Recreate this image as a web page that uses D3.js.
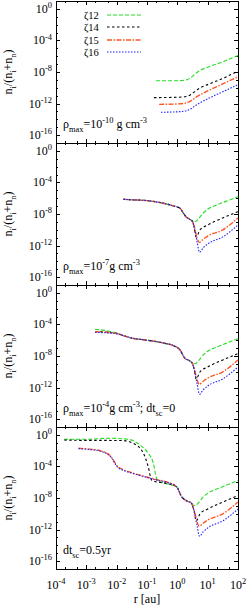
<!DOCTYPE html>
<html>
<head>
<meta charset="utf-8">
<script src="https://cdn.jsdelivr.net/npm/d3@7"></script>
<style>
  body { margin: 0; background: #fff; }
</style>
</head>
<body>
<svg id="chart" width="249" height="608" font-family="'Liberation Serif', 'Times New Roman', serif"></svg>
<script>
// all values are log10(r [au]), log10(n_i/(n_i+n_n))

// panel 1: rho_max = 1e-10
var p1_z12 = [[-0.7,-9.1],[0.0,-9.1],[0.3,-9.0],[0.45,-8.7],[0.6,-8.2],[0.75,-7.8],[1.0,-7.4],[1.5,-6.7],[2.0,-5.9]];
var p1_z14 = [[-0.77,-11.25],[0.0,-11.2],[0.3,-11.1],[0.45,-10.85],[0.6,-10.4],[0.75,-10.0],[1.0,-9.6],[1.5,-8.8],[2.0,-7.9]];
var p1_z15 = [[-0.6,-12.1],[0.0,-12.05],[0.3,-11.9],[0.45,-11.65],[0.6,-11.25],[0.75,-10.9],[1.0,-10.4],[1.5,-9.5],[2.0,-8.6]];
var p1_z16 = [[-0.54,-13.1],[0.0,-13.05],[0.3,-12.9],[0.45,-12.65],[0.6,-12.25],[0.75,-11.9],[1.0,-11.4],[1.5,-10.5],[2.0,-9.6]];

// outer part after the dip, same in panels 2-4
var tail_z12 = [[0.5,-8.85],[0.6,-8.95],[0.7,-8.6],[0.85,-7.9],[1.0,-7.4],[1.3,-6.86],[1.6,-6.4],[2.0,-5.8]];
var tail_z14 = [[0.5,-8.95],[0.55,-9.6],[0.62,-10.9],[0.75,-10.0],[1.0,-9.4],[1.5,-8.5],[2.0,-7.7]];
var tail_z15 = [[0.5,-8.95],[0.55,-9.5],[0.65,-11.0],[0.72,-11.6],[0.85,-11.2],[1.0,-10.8],[1.5,-10.0],[2.0,-8.5]];
var tail_z16 = [[0.5,-9.0],[0.55,-9.6],[0.65,-11.5],[0.73,-12.85],[0.85,-12.3],[1.0,-11.8],[1.5,-10.9],[2.0,-9.4]];

// panel 2: rho_max = 1e-7
var p2_trunk = [[-1.78,-6.14],[-1.5,-6.2],[-1.0,-6.3],[-0.8,-6.4],[-0.5,-6.6],[-0.2,-6.9],[0.09,-7.28],[0.2,-7.9],[0.3,-8.4],[0.4,-8.65]];

// panel 3: rho_max = 1e-4, dt_sc = 0
var p3_z12 = [[-2.71,-4.62],[-2.4,-4.75],[-2.0,-5.1]];
var p3_z14 = [[-2.71,-4.9],[-2.4,-4.95],[-2.0,-5.13]];
var p3_z15 = [[-2.71,-4.92],[-2.4,-4.97],[-2.0,-5.15]];
var p3_z16 = [[-2.71,-5.02],[-2.4,-5.05],[-2.0,-5.17]];
var p3_trunk = [[-1.75,-5.45],[-1.46,-5.76],[-1.1,-5.95],[-0.68,-6.18],[-0.4,-6.4],[-0.13,-6.69],[0.09,-7.24],[0.25,-8.3],[0.4,-8.6]];

// panel 4: dt_sc = 0.5 yr
var p4_z12 = [[-3.73,-0.56],[-3.0,-0.56],[-2.6,-0.48],[-2.22,-0.43],[-1.85,-0.48],[-1.56,-0.6],[-1.23,-1.28],[-0.96,-2.33],[-0.79,-3.6],[-0.7,-5.3],[-0.66,-5.75],[-0.5,-6.05],[-0.35,-6.2]];
var p4_z14 = [[-3.73,-0.65],[-3.0,-0.7],[-2.4,-0.7],[-1.8,-0.72],[-1.45,-1.07],[-1.12,-2.33],[-0.96,-4.03],[-0.85,-5.72],[-0.75,-5.9],[-0.35,-6.15]];
var p4_z15 = [[-3.26,-1.7],[-2.9,-1.8],[-2.55,-2.0],[-2.22,-2.59],[-1.95,-4.07],[-1.78,-4.41],[-1.5,-4.8],[-1.23,-5.12],[-0.95,-5.4],[-0.68,-5.68],[-0.35,-5.97]];
var p4_z16 = [[-3.26,-1.75],[-2.9,-1.85],[-2.55,-2.05],[-2.22,-2.7],[-1.95,-4.15],[-1.78,-4.5],[-1.5,-4.85],[-1.23,-5.15],[-0.95,-5.45],[-0.68,-5.72],[-0.35,-6.0]];
var p4_trunk = [[-0.02,-6.6],[0.14,-7.83],[0.3,-8.35],[0.47,-8.67]];

var seriesNames = ["12", "14", "15", "16"];
var seriesColors = ["#22dd22", "#000000", "#ff5522", "#1f1fff"];
var seriesDash = ["4,2", "2.5,2.5", "5,1.5,1.5,1.5", "1.5,1.5"];

var xTickExp = [-4, -3, -2, -1, 0, 1, 2];
var yTickExp = [0, -4, -8, -12, -16];

var panels = [
  { series: [p1_z12, p1_z14, p1_z15, p1_z16], label: [["ρ",0],["max",1],["=10",0],["-10",-1],[" g cm",0],["-3",-1]] },
  { series: [p2_trunk.concat(tail_z12), p2_trunk.concat(tail_z14), p2_trunk.concat(tail_z15), p2_trunk.concat(tail_z16)],
    label: [["ρ",0],["max",1],["=10",0],["-7",-1],["g cm",0],["-3",-1]] },
  { series: [p3_z12.concat(p3_trunk, tail_z12), p3_z14.concat(p3_trunk, tail_z14), p3_z15.concat(p3_trunk, tail_z15), p3_z16.concat(p3_trunk, tail_z16)],
    label: [["ρ",0],["max",1],["=10",0],["-4",-1],["g cm",0],["-3",-1],["; dt",0],["sc",1],["=0",0]] },
  { series: [p4_z12.concat(p4_trunk, tail_z12), p4_z14.concat(p4_trunk, tail_z14), p4_z15.concat(p4_trunk, tail_z15), p4_z16.concat(p4_trunk, tail_z16)],
    label: [["dt",0],["sc",1],["=0.5yr",0]] }
];

var left = 56, right = 238, top0 = 1, panelH = 142;
var svg = d3.select("#chart");

var x = d3.scaleLog().domain([1e-4, 1e2]).range([left, right]);

// write text with sub/superscripts; shift: 0 normal, 1 sub, -1 super
function rich(sel, parts, size) {
  var cur = 0;
  parts.forEach(function(p) {
    var off = p[1] === 1 ? size * 0.3 : (p[1] === -1 ? -size * 0.4 : 0);
    sel.append("tspan")
      .attr("dy", off - cur)
      .attr("font-size", (p[1] === 0 ? size : size * 0.7))
      .text(p[0]);
    cur = off;
  });
  return sel;
}

var xMinor = [];
xTickExp.forEach(function(e) {
  if (e < 2) { xMinor.push(2 * Math.pow(10, e)); xMinor.push(5 * Math.pow(10, e)); }
});
var yMinor = d3.range(-17, 2).map(function(e) { return Math.pow(10, e); });

var line = d3.line();

panels.forEach(function(panel, i) {
  var t = top0 + i * panelH, b = t + panelH;
  var y = d3.scaleLog().domain([1e-17, 1e1]).range([b, t]);
  var g = svg.append("g");

  // ticks, mirrored on all sides
  var tk = g.append("g").attr("stroke", "#000").attr("stroke-width", 1);
  xTickExp.forEach(function(e) {
    var px = Math.round(x(Math.pow(10, e))) + 0.5;
    tk.append("line").attr("x1", px).attr("x2", px).attr("y1", b).attr("y2", b - 4);
    tk.append("line").attr("x1", px).attr("x2", px).attr("y1", t).attr("y2", t + 4);
  });
  xMinor.forEach(function(v) {
    var px = Math.round(x(v)) + 0.5;
    tk.append("line").attr("x1", px).attr("x2", px).attr("y1", b).attr("y2", b - 2);
    tk.append("line").attr("x1", px).attr("x2", px).attr("y1", t).attr("y2", t + 2);
  });
  yMinor.forEach(function(v) {
    var py = Math.round(y(v)) + 0.5;
    var len = yTickExp.indexOf(Math.round(Math.log10(v))) >= 0 ? 4 : 2;
    tk.append("line").attr("x1", left).attr("x2", left + len).attr("y1", py).attr("y2", py);
    tk.append("line").attr("x1", right).attr("x2", right - len).attr("y1", py).attr("y2", py);
  });

  // frame
  g.append("rect").attr("x", left + 0.5).attr("y", t + 0.5)
    .attr("width", right - left).attr("height", panelH)
    .attr("fill", "none").attr("stroke", "#000").attr("stroke-width", 1);

  // y tick labels
  yTickExp.forEach(function(e) {
    var txt = g.append("text").attr("x", 52).attr("y", y(Math.pow(10, e)) + 4)
      .attr("text-anchor", "end");
    rich(txt, [["10", 0], [String(e), -1]], 12);
  });

  // y title
  var yt = g.append("text")
    .attr("transform", "translate(12," + ((t + b) / 2) + ") rotate(-90)")
    .attr("text-anchor", "middle");
  rich(yt, [["n",0],["i",1],["/(n",0],["i",1],["+n",0],["n",1],[")",0]], 12);

  // curves
  panel.series.forEach(function(s, k) {
    g.append("path")
      .attr("d", line.curve(d3.curveMonotoneX)(s.map(function(d) {
        return [x(Math.pow(10, d[0])), y(Math.pow(10, d[1]))];
      })))
      .attr("fill", "none")
      .attr("stroke", seriesColors[k])
      .attr("stroke-width", k === 2 ? 1.4 : 1.1)
      .attr("stroke-dasharray", seriesDash[k]);
  });

  // panel annotation
  var lab = g.append("text").attr("x", 63).attr("y", b - 15);
  rich(lab, panel.label, 12);
});

// legend in the first panel
var legRows = [15, 27, 40, 52];
seriesNames.forEach(function(n, k) {
  var ly = legRows[k];
  var lt = svg.append("text").attr("x", 84).attr("y", ly + 4);
  rich(lt, [["ζ", 0], [n, 0]], 10.5);
  svg.append("line").attr("x1", 107).attr("x2", 141).attr("y1", ly).attr("y2", ly)
    .attr("stroke", seriesColors[k]).attr("stroke-width", k === 2 ? 1.4 : 1.1)
    .attr("stroke-dasharray", seriesDash[k]);
});

// x tick labels and title under the last panel
var xb = top0 + 4 * panelH;
xTickExp.forEach(function(e) {
  var txt = svg.append("text").attr("x", x(Math.pow(10, e))).attr("y", xb + 20)
    .attr("text-anchor", "middle");
  rich(txt, [["10", 0], [String(e), -1]], 12);
});
svg.append("text").attr("x", 147).attr("y", xb + 34).attr("text-anchor", "middle")
  .attr("font-size", 12).text("r [au]");
</script>
</body>
</html>
